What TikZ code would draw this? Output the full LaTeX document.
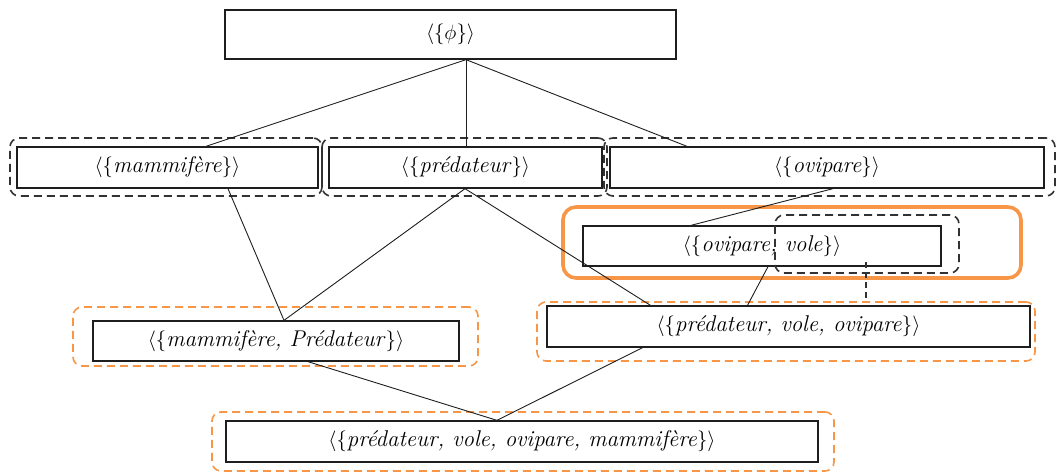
\documentclass[tikz,border=0pt]{standalone}
\usepackage{fontspec}
\definecolor{accent}{RGB}{247,150,70}
\definecolor{ink}{RGB}{30,30,30}
\definecolor{dashink}{RGB}{50,50,50}
% lattice element label: an italic set between angle brackets
\newcommand{\elt}[1]{$\langle\{$\textit{#1}$\}\rangle$}
\begin{document}
\begin{tikzpicture}[x=1pt,y=-1pt,
  box/.style={draw=ink, line width=1.3pt, fill=white, inner sep=0pt,
    font=\fontsize{22.8}{26}\selectfont},
  grp/.style={draw=dashink, line width=1.6pt, dash pattern=on 8pt off 5pt,
    rounded corners=9pt, inner sep=0pt},
  ogrp/.style={draw=accent, line width=1.6pt, dash pattern=on 8pt off 5pt,
    rounded corners=9pt, inner sep=0pt},
  osel/.style={draw=accent, line width=3.6pt, rounded corners=13pt, inner sep=0pt},
  link/.style={draw=ink, line width=0.9pt},
  dlink/.style={draw=dashink, line width=1.4pt, dash pattern=on 6pt off 4pt}]
\useasboundingbox (0,0) rectangle (1057,473);

% group frames
\node[grp, minimum width=312pt, minimum height=58pt] (mamF) at (166,167) {};
\node[grp, minimum width=285pt, minimum height=58pt] (predF) at (464.5,167) {};
\node[grp, minimum width=451pt, minimum height=58pt] (oviF) at (829.5,167) {};
\node[osel, minimum width=458pt, minimum height=71pt] (ovF) at (792,242.5) {};
\node[ogrp, minimum width=498pt, minimum height=59pt] (pvoF) at (786,331.5) {};
\node[ogrp, minimum width=405pt, minimum height=59pt] (mpF) at (275.5,336.5) {};
\node[ogrp, minimum width=622pt, minimum height=59pt] (botF) at (523,441.5) {};

% lattice elements
\node[box, minimum width=451pt, minimum height=49pt] (top) at (450.5,34.5)
  {$\langle\{\phi\}\rangle$};
\node[box, minimum width=301pt, minimum height=41pt] (mam) at (167.5,167.5)
  {\elt{mammifère}};
\node[box, minimum width=273pt, minimum height=41pt] (pred) at (465.5,167.5)
  {\elt{prédateur}};
\node[box, minimum width=434pt, minimum height=41pt] (ovi) at (827,167.5)
  {\elt{ovipare}};
\node[box, minimum width=358pt, minimum height=40pt] (ov) at (762,246)
  {\elt{ovipare, vole}};
\node[box, minimum width=483pt, minimum height=41pt] (pvo) at (788.5,326.5)
  {\elt{prédateur, vole, ovipare}};
\node[box, minimum width=366pt, minimum height=40pt] (mp) at (276,341)
  {\elt{mammifère, Prédateur}};
\node[box, minimum width=592pt, minimum height=41pt] (bot) at (522,441.5)
  {\elt{prédateur, vole, ovipare, mammifère}};

% frame drawn over the selected element
\node[grp, minimum width=184pt, minimum height=58pt] (ovD) at (867,244) {};

% cover relations
\coordinate (t0) at ([xshift=15.5pt]top.south);
\draw[link] (t0) -- ([xshift=38.5pt]mam.north);
\draw[link] (t0) -- ([xshift=0.5pt]pred.north);
\draw[link] (t0) -- ([xshift=-140pt]ovi.north);
\draw[link] ([xshift=60.5pt]mam.south) -- ([xshift=8pt]mp.north);
\draw[link] ([xshift=-0.5pt]pred.south) -- ([xshift=8pt]mp.north);
\draw[link] ([xshift=-0.5pt]pred.south) -- ([xshift=-138pt]pvo.north);
\draw[link] ([xshift=6pt]ovi.south) -- ([xshift=-71pt]ov.north);
\draw[link] ([xshift=6pt]ov.south) -- ([xshift=-41pt]pvo.north);
\draw[link] ([xshift=32pt]mp.south) -- ([xshift=-25pt]bot.north);
\draw[link] ([xshift=-146pt]pvo.south) -- ([xshift=-25pt]bot.north);
\coordinate (d0) at (866,262);
\draw[dlink] (d0) -- (d0 |- pvoF.north);
\end{tikzpicture}
\end{document}
